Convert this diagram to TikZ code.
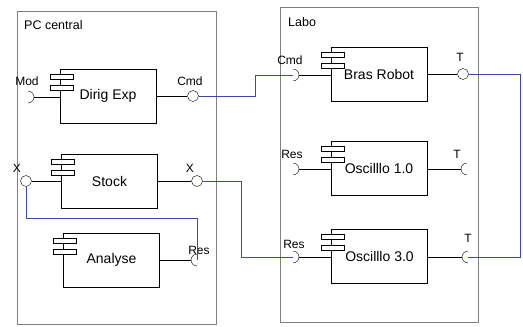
\documentclass[tikz,border=0pt]{standalone}
\usepackage{fontspec}
\setmainfont{Liberation Sans}
\definecolor{wireblue}{RGB}{60,72,170}
\begin{document}
\begin{tikzpicture}[x=1pt,y=-1pt,
  comp/.style={draw,fill=white,minimum width=96pt,minimum height=54pt,inner sep=0pt,font=\fontsize{14}{16}\selectfont},
  frame/.style={draw=gray,line width=1.1pt,anchor=north west,inner sep=0pt},
  port/.style={draw,circle,fill=white,minimum size=11pt,inner sep=0pt},
  lbl/.style={inner sep=0pt,font=\fontsize{12}{14}\selectfont},
  wire/.style={draw=wireblue,line width=0.8pt}]
\useasboundingbox (0,0) rectangle (523,327);
% containers
\node[frame,minimum width=199pt,minimum height=313pt] (pc) at (17,11) {};
\node[frame,minimum width=198pt,minimum height=315pt] (labo) at (280,7) {};
\node[anchor=west,inner sep=0pt,font=\fontsize{12.5}{14}\selectfont] (pclbl) at (24,25) {PC central};
\node[anchor=west,inner sep=0pt,font=\fontsize{12.5}{14}\selectfont] (labolbl) at (288,22) {Labo};
% components
\node[comp] (dirig) at (108,96) {Dirig Exp};
\node[comp] (stock) at (109.5,181) {Stock};
\node[comp] (analyse) at (111.5,260) {Analyse};
\node[comp] (bras) at (379,74) {Bras Robot};
\node[comp] (oscA) at (379,168.5) {Oscilllo 1.0};
\node[comp] (oscB) at (379.5,256) {Oscilllo 3.0};
\foreach \c in {dirig,stock,analyse,bras,oscA,oscB} {
  \draw[fill=white] ([xshift=-10pt,yshift=-5pt]\c.north west) rectangle ++(23,5);
  \draw[fill=white] ([xshift=-10pt,yshift=-16pt]\c.north west) rectangle ++(23,5);
}
% provided ports
\node[port] (dcmd) at (193,96) {};
\node[port] (sxl) at (26,181) {};
\node[port] (sxr) at (197,181) {};
\node[port] (bt) at (463,74) {};
\draw (dirig) -- (dcmd);
\draw (stock) -- (sxl);
\draw (stock) -- (sxr);
\draw (bras) -- (bt);
% required ports
\coordinate (dmod) at (28,97);
\coordinate (bcmd) at (293,75);
\coordinate (oresA) at (293,169);
\coordinate (oresB) at (293,257);
\coordinate (ares) at (197,260);
\coordinate (otA) at (467,169);
\coordinate (otB) at (468,257);
\foreach \s/\c in {dmod/dirig,bcmd/bras,oresA/oscA,oresB/oscB} {
  \draw (\c.west |- \s) -- ([xshift=6pt]\s);
  \draw ([yshift=6pt]\s) arc[start angle=90,end angle=-90,radius=6pt];
}
\foreach \s/\c in {ares/analyse,otA/oscA,otB/oscB} {
  \draw (\c.east |- \s) -- ([xshift=-6pt]\s);
  \draw ([yshift=6pt]\s) arc[start angle=90,end angle=270,radius=6pt];
}
% port labels
\node[lbl] (lmod) at (27,81) {Mod};
\node[lbl] (lcmd) at (190,81) {Cmd};
\node[lbl] (lxl) at (17,168) {X};
\node[lbl] (lxr) at (190,168) {X};
\node[lbl] (lares) at (199,250) {Res};
\node[lbl] (lbcmd) at (290,60) {Cmd};
\node[lbl] (lbt) at (460,57) {T};
\node[lbl] (lresA) at (292,154) {Res};
\node[lbl] (ltA) at (457,154) {T};
\node[lbl] (lresB) at (294,244) {Res};
\node[lbl] (ltB) at (468,238) {T};
% connectors
\draw[wire] (dcmd.east) -- ++(57,0) |- (bcmd);
\draw[wire] (sxl.south) -- ++(0,32) -| (ares);
\draw[wire] (sxr.east) -- ++(39,0) |- (oresB);
\draw[wire] (bt.east) -- ++(52,0) |- (otB);
\end{tikzpicture}
\end{document}
